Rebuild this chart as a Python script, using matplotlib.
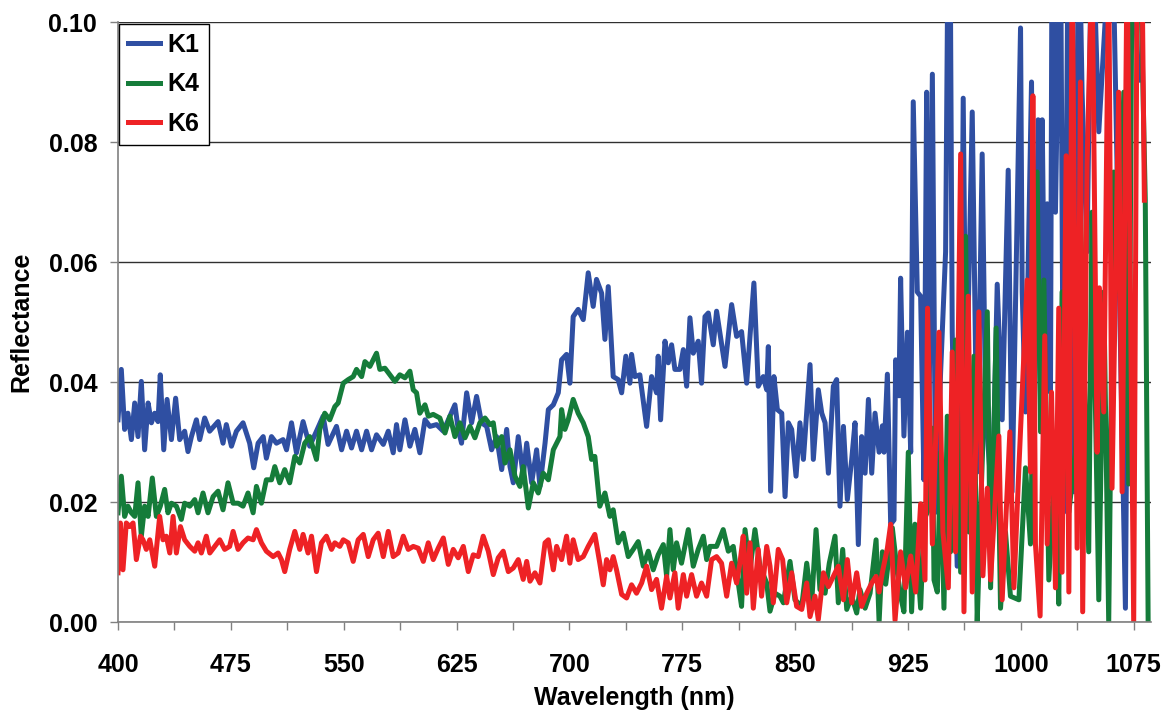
import matplotlib
matplotlib.use('Agg')
import matplotlib.pyplot as plt
from matplotlib.ticker import MultipleLocator, FormatStrFormatter

# Spectra (wavelength in nm, reflectance)
k1_wl = [400.0, 402.2, 404.4, 406.6, 408.9, 411.1, 413.3, 415.5, 417.7, 420.0, 422.2, 424.4, 426.6, 428.1, 430.4, 432.6,
         435.5, 438.3, 441.0, 444.3, 446.5, 448.8, 452.1, 454.3, 457.6, 460.9, 466.5, 469.8, 472.0, 475.4, 478.7, 483.1,
         487.5, 490.2, 493.1, 496.5, 498.6, 502.0, 505.3, 509.7, 512.0, 515.3, 518.6, 523.0, 527.4, 531.9, 536.3, 539.6,
         545.2, 548.6, 551.9, 555.2, 558.5, 561.9, 565.2, 568.5, 571.8, 576.3, 579.6, 582.9, 585.1, 587.3, 590.7, 594.0,
         597.3, 600.6, 604.0, 607.3, 611.7, 616.2, 619.5, 623.9, 626.1, 628.3, 631.7, 635.0, 638.3, 641.6, 645.0, 648.3,
         651.6, 655.0, 658.3, 660.5, 662.7, 666.0, 669.3, 671.6, 674.9, 678.2, 680.4, 683.8, 686.0, 689.3, 692.6, 694.8,
         698.1, 700.3, 702.5, 705.8, 709.2, 712.5, 715.8, 718.0, 721.4, 723.6, 725.8, 729.1, 732.4, 734.7, 737.5, 740.2,
         741.3, 743.5, 746.8, 751.3, 754.6, 757.9, 759.0, 760.6, 763.5, 765.7, 767.9, 770.1, 773.4, 775.7, 777.9, 780.1,
         782.3, 785.6, 787.8, 790.1, 792.3, 795.6, 797.8, 803.4, 807.8, 811.1, 814.4, 817.8, 820.0, 822.6, 825.5, 828.8,
         831.1, 832.2, 833.7, 835.9, 838.2, 841.1, 843.3, 845.5, 847.7, 850.6, 853.2, 855.5, 859.9, 862.1, 865.4, 867.7,
         869.9, 872.1, 875.4, 877.6, 879.8, 882.1, 884.7, 887.6, 889.8, 892.0, 894.2, 896.5, 898.7, 900.9, 903.1, 905.8,
         908.0, 909.1, 911.3, 913.5, 915.7, 916.8, 919.0, 920.1, 922.3, 924.6, 926.8, 928.5, 931.2, 933.4, 935.6, 937.4,
         939.0, 941.2, 943.4, 946.7, 950.0, 951.5, 953.3, 954.4, 957.7, 960.0, 961.7, 963.7, 967.7, 971.0, 974.3, 976.6,
         981.0, 984.3, 987.6, 991.6, 994.2, 999.8, 1000.9, 1003.1, 1007.1, 1008.6, 1011.5, 1013.1, 1014.2, 1016.4, 1017.5,
         1019.7, 1020.8, 1023.0, 1026.3, 1028.5, 1031.9, 1035.2, 1038.5, 1040.7, 1044.0, 1047.3, 1051.8, 1060.6, 1065.0,
         1069.5, 1072.8, 1078.3]
k1_refl = [0.0337, 0.0421, 0.0321, 0.0348, 0.0304, 0.0365, 0.0309, 0.0401, 0.0287, 0.0365, 0.0332, 0.0348, 0.0334, 0.0412,
           0.0287, 0.0371, 0.0304, 0.0373, 0.0304, 0.0318, 0.0284, 0.0309, 0.0337, 0.0304, 0.0340, 0.0318, 0.0334, 0.0298,
           0.0329, 0.0293, 0.0318, 0.0332, 0.0298, 0.0257, 0.0298, 0.0309, 0.0273, 0.0309, 0.0298, 0.0304, 0.0287, 0.0332,
           0.0282, 0.0334, 0.0293, 0.0318, 0.0343, 0.0296, 0.0326, 0.0287, 0.0318, 0.0290, 0.0318, 0.0287, 0.0318, 0.0287,
           0.0312, 0.0296, 0.0318, 0.0282, 0.0329, 0.0287, 0.0337, 0.0293, 0.0321, 0.0282, 0.0337, 0.0326, 0.0329, 0.0318,
           0.0337, 0.0362, 0.0321, 0.0298, 0.0382, 0.0332, 0.0376, 0.0332, 0.0326, 0.0287, 0.0309, 0.0254, 0.0321, 0.0259,
           0.0232, 0.0309, 0.0243, 0.0298, 0.0232, 0.0287, 0.0226, 0.0298, 0.0354, 0.0362, 0.0382, 0.0437, 0.0446, 0.0398,
           0.0509, 0.0521, 0.0504, 0.0582, 0.0526, 0.0571, 0.0548, 0.0471, 0.0559, 0.0409, 0.0404, 0.0382, 0.0443, 0.0398,
           0.0446, 0.0409, 0.0412, 0.0326, 0.0409, 0.0382, 0.0443, 0.0337, 0.0468, 0.0432, 0.0462, 0.0421, 0.0421, 0.0454,
           0.0393, 0.0507, 0.0448, 0.0468, 0.0398, 0.0509, 0.0515, 0.0462, 0.0518, 0.0426, 0.0529, 0.0476, 0.0484, 0.0398,
           0.0476, 0.0565, 0.0393, 0.0409, 0.0387, 0.0459, 0.0218, 0.0409, 0.0354, 0.0348, 0.0209, 0.0332, 0.0321, 0.0243,
           0.0332, 0.0271, 0.0429, 0.0271, 0.0387, 0.0348, 0.0332, 0.0248, 0.0393, 0.0404, 0.0193, 0.0326, 0.0204, 0.0271,
           0.0332, 0.0129, 0.0309, 0.0248, 0.0371, 0.0248, 0.0348, 0.0283, 0.0327, 0.0283, 0.0413, 0.0163, 0.0170, 0.0437,
           0.0377, 0.0573, 0.0310, 0.0483, 0.0283, 0.0867, 0.0550, 0.0543, 0.0237, 0.0883, 0.0350, 0.0913, 0.0183, 0.0417,
           0.0617, 0.1100, 0.0997, 0.0483, 0.0093, 0.0283, 0.0873, 0.0350, 0.0850, 0.0250, 0.0780, 0.0350, 0.0197, 0.0563,
           0.0337, 0.0753, 0.0217, 0.0990, 0.0550, 0.0350, 0.0900, 0.0283, 0.0837, 0.0350, 0.0837, 0.0350, 0.0697, 0.0383,
           0.1200, 0.0683, 0.1200, 0.0183, 0.1300, 0.0217, 0.1200, 0.0883, 0.0617, 0.1200, 0.0817, 0.1200, 0.0617, 0.0023,
           0.1200, 0.0903]

k4_wl = [400.0, 402.2, 404.4, 406.6, 408.9, 411.1, 413.3, 415.5, 417.7, 420.0, 422.8, 425.5, 428.1, 431.0, 433.2, 435.5,
         438.8, 442.1, 444.3, 447.7, 451.0, 453.2, 456.5, 459.8, 463.2, 466.5, 469.8, 473.1, 476.5, 479.8, 483.1, 486.4,
         489.8, 492.0, 495.3, 498.6, 502.0, 504.2, 507.5, 510.8, 514.1, 517.5, 520.8, 524.1, 527.4, 531.9, 534.1, 537.4,
         540.7, 544.1, 546.3, 549.7, 553.0, 556.3, 558.5, 561.9, 564.1, 567.4, 569.6, 571.8, 574.0, 577.4, 580.7, 584.0,
         587.3, 590.7, 594.0, 596.2, 598.4, 600.6, 604.0, 606.2, 609.5, 613.9, 617.3, 620.6, 623.9, 627.2, 630.6, 633.9,
         637.2, 640.5, 643.9, 647.2, 649.4, 651.6, 655.0, 657.2, 660.5, 663.8, 667.1, 669.3, 672.7, 676.0, 679.3, 682.6,
         686.0, 689.3, 693.7, 694.8, 697.0, 699.2, 702.5, 705.8, 709.2, 712.5, 714.7, 716.9, 720.2, 723.6, 726.9, 729.1,
         732.4, 735.8, 739.1, 742.4, 745.7, 749.1, 752.4, 755.7, 759.0, 762.4, 764.6, 766.8, 769.0, 771.2, 774.5, 779.0,
         782.3, 785.6, 789.0, 791.2, 793.4, 797.8, 802.2, 805.6, 808.9, 812.2, 814.4, 816.7, 820.0, 823.3, 826.6, 831.1,
         833.3, 836.6, 839.9, 842.2, 846.6, 849.9, 854.4, 857.7, 861.0, 863.9, 866.5, 869.9, 872.7, 876.5, 878.7, 881.6,
         884.3, 887.6, 890.9, 893.1, 896.5, 899.8, 903.8, 905.8, 908.0, 910.2, 914.6, 917.9, 920.1, 922.3, 925.2, 927.4,
         929.6, 933.4, 935.6, 939.0, 941.2, 942.3, 944.5, 946.7, 948.9, 951.1, 953.3, 956.6, 960.0, 963.3, 965.5, 968.8,
         971.0, 973.2, 977.7, 979.9, 983.6, 986.5, 989.8, 993.1, 998.7, 1003.1, 1006.4, 1010.8, 1013.1, 1015.3, 1018.6,
         1023.0, 1025.2, 1027.4, 1031.9, 1036.3, 1039.6, 1045.1, 1047.3, 1051.8, 1055.1, 1058.4, 1061.7, 1065.0, 1068.4,
         1071.7, 1073.9, 1079.4, 1082.7, 1084.6]
k4_refl = [0.0182, 0.0243, 0.0176, 0.0193, 0.0182, 0.0176, 0.0232, 0.0143, 0.0193, 0.0176, 0.0240, 0.0176, 0.0193, 0.0221,
           0.0182, 0.0198, 0.0193, 0.0171, 0.0198, 0.0193, 0.0204, 0.0182, 0.0215, 0.0182, 0.0209, 0.0218, 0.0187, 0.0232,
           0.0198, 0.0198, 0.0193, 0.0215, 0.0182, 0.0226, 0.0198, 0.0237, 0.0237, 0.0259, 0.0232, 0.0254, 0.0232, 0.0276,
           0.0265, 0.0298, 0.0309, 0.0271, 0.0321, 0.0348, 0.0337, 0.0359, 0.0365, 0.0398, 0.0404, 0.0409, 0.0421, 0.0409,
           0.0434, 0.0426, 0.0437, 0.0448, 0.0421, 0.0423, 0.0412, 0.0401, 0.0412, 0.0407, 0.0418, 0.0387, 0.0382, 0.0348,
           0.0362, 0.0343, 0.0346, 0.0340, 0.0315, 0.0343, 0.0309, 0.0332, 0.0307, 0.0326, 0.0307, 0.0332, 0.0340, 0.0329,
           0.0332, 0.0293, 0.0309, 0.0265, 0.0287, 0.0243, 0.0226, 0.0259, 0.0190, 0.0232, 0.0215, 0.0248, 0.0237, 0.0287,
           0.0309, 0.0354, 0.0321, 0.0337, 0.0371, 0.0348, 0.0332, 0.0309, 0.0271, 0.0276, 0.0193, 0.0215, 0.0176, 0.0187,
           0.0132, 0.0148, 0.0109, 0.0121, 0.0134, 0.0093, 0.0118, 0.0087, 0.0112, 0.0129, 0.0076, 0.0154, 0.0087, 0.0132,
           0.0098, 0.0154, 0.0093, 0.0121, 0.0143, 0.0104, 0.0126, 0.0126, 0.0154, 0.0118, 0.0126, 0.0065, 0.0026, 0.0154,
           0.0087, 0.0154, 0.0093, 0.0065, 0.0018, 0.0048, 0.0043, 0.0032, 0.0101, 0.0037, 0.0026, 0.0098, 0.0032, 0.0154,
           0.0054, 0.0048, 0.0098, 0.0143, 0.0032, 0.0121, 0.0021, 0.0043, 0.0015, 0.0054, 0.0023, 0.0048, 0.0137, 0.0000,
           0.0117, 0.0063, 0.0157, 0.0083, 0.0043, 0.0017, 0.0283, 0.0017, 0.0163, 0.0023, 0.0170, 0.0190, 0.0323, 0.0070,
           0.0050, 0.0283, 0.0023, 0.0343, 0.0117, 0.0470, 0.0083, 0.0643, 0.0150, 0.0443, 0.0000, 0.0183, 0.0517, 0.0057,
           0.0490, 0.0023, 0.0150, 0.0043, 0.0037, 0.0257, 0.0130, 0.0750, 0.0317, 0.0570, 0.0070, 0.0283, 0.0030, 0.0550,
           0.0183, 0.0283, 0.0683, 0.0117, 0.0683, 0.0037, 0.0550, 0.0000, 0.0750, 0.0550, 0.0883, 0.0230, 0.1100, 0.1100,
           0.0703, 0.0000]

k6_wl = [400.0, 401.6, 403.3, 405.5, 407.8, 410.0, 412.2, 414.9, 416.6, 418.8, 421.1, 424.4, 427.7, 429.9, 432.1, 434.4,
         436.6, 438.8, 441.5, 444.3, 447.7, 451.0, 453.2, 455.4, 458.7, 461.0, 464.3, 467.6, 470.9, 474.2, 476.5, 479.8,
         483.1, 486.4, 489.8, 492.0, 495.3, 498.6, 503.1, 506.4, 508.6, 510.8, 514.1, 517.5, 520.8, 523.0, 526.3, 528.6,
         531.9, 535.2, 538.5, 541.9, 544.1, 547.4, 549.7, 553.0, 556.3, 559.6, 563.0, 566.3, 569.6, 572.9, 576.3, 579.6,
         582.9, 586.2, 589.6, 592.9, 596.2, 599.5, 602.9, 606.2, 609.5, 612.8, 616.2, 619.5, 622.8, 626.1, 629.5, 632.8,
         636.1, 639.4, 642.7, 646.1, 649.4, 652.7, 656.0, 659.4, 662.7, 666.0, 669.3, 671.6, 673.8, 677.1, 680.4, 683.8,
         686.0, 689.3, 691.5, 694.8, 698.1, 700.3, 702.5, 705.8, 709.2, 712.5, 716.9, 720.2, 722.5, 724.7, 726.9, 729.1,
         731.3, 734.7, 738.0, 741.3, 744.6, 748.0, 751.3, 754.6, 757.9, 761.2, 764.6, 766.8, 770.1, 772.3, 775.7, 777.9,
         781.2, 784.5, 787.8, 791.2, 794.5, 797.8, 801.1, 804.5, 807.8, 811.1, 813.3, 815.5, 817.8, 820.0, 822.2, 825.5,
         827.7, 831.1, 833.3, 835.5, 838.8, 841.7, 844.4, 847.7, 851.0, 854.4, 857.7, 859.9, 863.2, 865.4, 868.8, 872.1,
         875.4, 878.7, 882.1, 884.7, 887.6, 890.9, 894.2, 897.6, 900.9, 903.8, 905.8, 908.0, 911.3, 913.5, 916.4, 920.1,
         923.4, 926.8, 930.1, 933.4, 936.3, 938.0, 941.2, 945.6, 948.2, 951.8, 954.4, 956.6, 960.0, 962.2, 965.0, 967.7,
         972.1, 974.8, 977.7, 979.9, 985.4, 987.6, 992.7, 995.4, 998.7, 1004.2, 1006.4, 1008.0, 1009.7, 1012.8, 1015.9,
         1017.5, 1020.4, 1023.0, 1025.2, 1027.4, 1030.1, 1031.9, 1034.1, 1037.4, 1039.6, 1041.1, 1044.0, 1047.3, 1050.7,
         1052.2, 1055.1, 1058.4, 1060.6, 1065.0, 1067.3, 1070.6, 1075.0, 1077.3, 1080.5, 1082.1]
k6_refl = [0.0082, 0.0165, 0.0087, 0.0165, 0.0159, 0.0165, 0.0104, 0.0143, 0.0137, 0.0121, 0.0137, 0.0093, 0.0176, 0.0137,
           0.0143, 0.0115, 0.0176, 0.0115, 0.0159, 0.0137, 0.0126, 0.0118, 0.0132, 0.0115, 0.0143, 0.0115, 0.0126, 0.0137,
           0.0121, 0.0126, 0.0151, 0.0121, 0.0132, 0.0140, 0.0137, 0.0154, 0.0132, 0.0118, 0.0109, 0.0115, 0.0104, 0.0084,
           0.0121, 0.0151, 0.0121, 0.0146, 0.0115, 0.0143, 0.0084, 0.0132, 0.0143, 0.0121, 0.0132, 0.0126, 0.0137, 0.0132,
           0.0101, 0.0137, 0.0146, 0.0109, 0.0137, 0.0148, 0.0109, 0.0151, 0.0109, 0.0115, 0.0143, 0.0121, 0.0126, 0.0123,
           0.0101, 0.0132, 0.0104, 0.0123, 0.0140, 0.0096, 0.0121, 0.0107, 0.0126, 0.0084, 0.0112, 0.0109, 0.0143, 0.0118,
           0.0079, 0.0107, 0.0118, 0.0084, 0.0090, 0.0104, 0.0071, 0.0101, 0.0068, 0.0082, 0.0065, 0.0132, 0.0137, 0.0087,
           0.0126, 0.0104, 0.0143, 0.0098, 0.0137, 0.0104, 0.0109, 0.0126, 0.0146, 0.0098, 0.0062, 0.0104, 0.0087, 0.0109,
           0.0087, 0.0046, 0.0040, 0.0062, 0.0048, 0.0065, 0.0093, 0.0054, 0.0071, 0.0023, 0.0076, 0.0040, 0.0082, 0.0023,
           0.0079, 0.0043, 0.0079, 0.0043, 0.0065, 0.0043, 0.0104, 0.0109, 0.0098, 0.0043, 0.0098, 0.0065, 0.0098, 0.0143,
           0.0048, 0.0132, 0.0023, 0.0121, 0.0043, 0.0126, 0.0093, 0.0032, 0.0121, 0.0104, 0.0032, 0.0082, 0.0026, 0.0021,
           0.0065, 0.0009, 0.0043, 0.0004, 0.0082, 0.0059, 0.0076, 0.0093, 0.0037, 0.0104, 0.0032, 0.0082, 0.0026, 0.0048,
           0.0065, 0.0076, 0.0050, 0.0083, 0.0123, 0.0163, 0.0003, 0.0117, 0.0057, 0.0110, 0.0050, 0.0197, 0.0070, 0.0523,
           0.0130, 0.0483, 0.0150, 0.0057, 0.0450, 0.0117, 0.0780, 0.0017, 0.0543, 0.0050, 0.0517, 0.0077, 0.0223, 0.0070,
           0.0310, 0.0037, 0.0317, 0.0057, 0.0257, 0.0570, 0.0250, 0.0877, 0.0130, 0.0010, 0.0477, 0.0130, 0.0383, 0.0057,
           0.0523, 0.0083, 0.0777, 0.0050, 0.1100, 0.0123, 0.0900, 0.0017, 0.0763, 0.1100, 0.0283, 0.0557, 0.0350, 0.1100,
           0.0223, 0.0883, 0.0217, 0.1100, 0.0000, 0.1100, 0.1100, 0.0703]

plt.rcParams['font.family'] = ['Liberation Sans', 'DejaVu Sans']
plt.rcParams['font.weight'] = 'bold'

fig = plt.figure(figsize=(11.73, 7.11), dpi=100)
ax = fig.add_axes([118 / 1173, 1 - 622 / 711, 1033 / 1173, 600 / 711])

ax.plot(k1_wl, k1_refl, color='#2f4fa2', lw=3.6, label='K1')
ax.plot(k4_wl, k4_refl, color='#157c3a', lw=3.6, label='K4')
ax.plot(k6_wl, k6_refl, color='#ee2225', lw=3.6, label='K6')

ax.set_xlim(400, 1086.5)
ax.set_ylim(0, 0.10)

# ticks: labels every 75 nm, extra tick marks half way
ax.xaxis.set_major_locator(MultipleLocator(75, offset=25))
ax.xaxis.set_minor_locator(MultipleLocator(37.5, offset=25))
ax.yaxis.set_major_locator(MultipleLocator(0.02))
ax.yaxis.set_major_formatter(FormatStrFormatter('%.2f'))
ax.tick_params(axis='both', which='both', direction='out', length=6, width=1,
               color='#808080', labelsize=18)
ax.tick_params(axis='x', which='both', pad=16)
ax.tick_params(axis='y', pad=9)
for lab in ax.get_xticklabels() + ax.get_yticklabels():
    lab.set_fontweight('bold')

# horizontal grid lines, no right/top frame
ax.yaxis.grid(True, color='#303030', lw=1)
ax.set_axisbelow(True)
for side in ['top', 'right']:
    ax.spines[side].set_visible(False)
for side in ['left', 'bottom']:
    ax.spines[side].set_color('#808080')
    ax.spines[side].set_linewidth(1.2)

ax.set_xlabel('Wavelength (nm)', fontsize=18, fontweight='bold', labelpad=7)
ax.set_ylabel('Reflectance', fontsize=18, fontweight='bold', labelpad=11)

leg = ax.legend(loc='upper left', bbox_to_anchor=(119 / 1173, 1 - 24 / 711),
                bbox_transform=fig.transFigure, borderaxespad=0,
                prop={'size': 18, 'weight': 'bold'}, handlelength=1.3,
                handletextpad=0.3, labelspacing=0.62, borderpad=0.35,
                fancybox=False, framealpha=1, edgecolor='black')
leg.get_frame().set_linewidth(1.0)

fig.savefig('out.png', dpi=100)
